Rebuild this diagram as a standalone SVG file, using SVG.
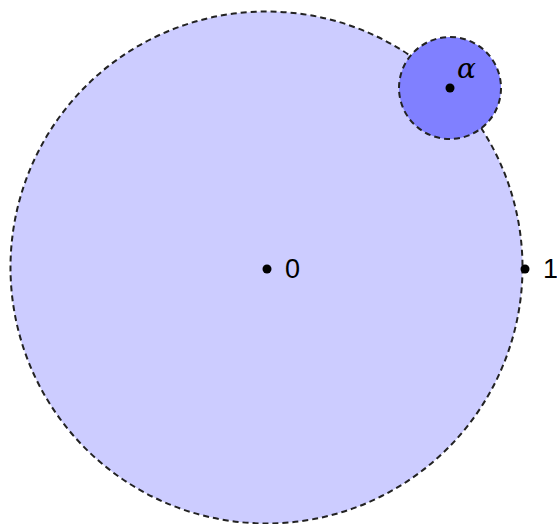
<svg xmlns="http://www.w3.org/2000/svg" width="557" height="524" viewBox="0 0 557 524">
<style>
.c{stroke:#222;stroke-width:2;stroke-dasharray:6,4}
.d{fill:#000}
.t{font-family:"Liberation Sans",Arial,sans-serif;font-size:27px;fill:#000}
</style>
<rect width="557" height="524" fill="#fff"/>
<g id="big"><circle class="c" cx="266.5" cy="267.5" r="256" fill="#ccccff"/></g>
<g id="small"><circle class="c" cx="450" cy="88" r="51" fill="#8080ff"/></g>
<g id="p0"><circle class="d" cx="267" cy="269" r="4.5"/><text class="t" x="285" y="278">0</text></g>
<g id="p1"><circle class="d" cx="525" cy="269" r="4.5"/><text class="t" x="543" y="278">1</text></g>
<g id="palpha"><circle class="d" cx="450" cy="88" r="4.5"/><text x="457" y="78" font-family="'DejaVu Serif',serif" font-style="italic" font-size="28" fill="#000">α</text></g>
</svg>
